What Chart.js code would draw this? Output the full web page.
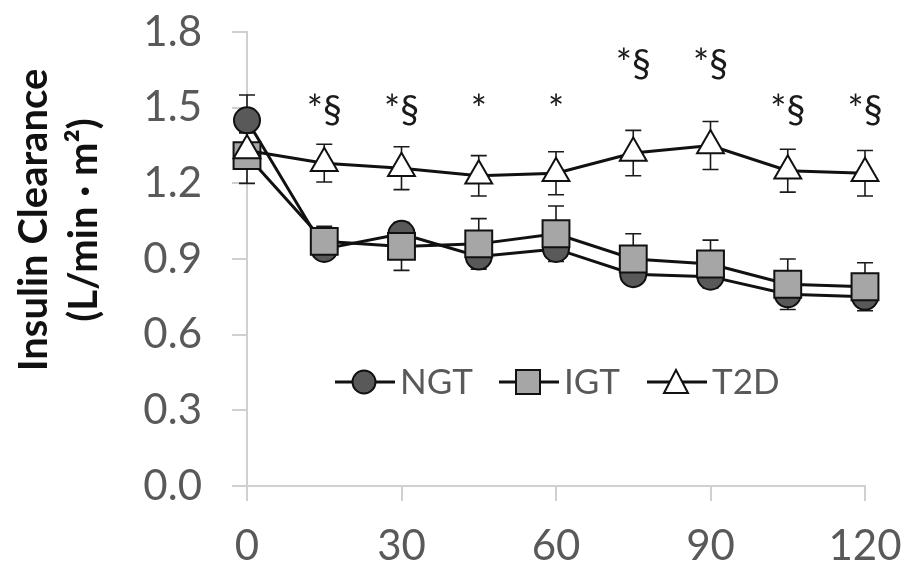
<!DOCTYPE html>
<html>
<head>
<meta charset="utf-8">
<script src="https://cdn.jsdelivr.net/npm/chart.js@4/dist/chart.umd.min.js"></script>
<style>
  html, body { margin: 0; padding: 0; background: #ffffff; }
  #wrap { width: 904px; height: 568px; }
</style>
</head>
<body>
<div id="wrap"><canvas id="c" width="904" height="568"></canvas></div>
<script>
// ---- data ----
const timeMin   = [0, 15, 30, 45, 60, 75, 90, 105, 120];
const ngt       = [1.45, 0.94, 1.00, 0.91, 0.94, 0.84, 0.83, 0.76, 0.75];
const ngtSE     = [0.10, 0.035, 0.035, 0.035, 0.035, 0.035, 0.035, 0.035, 0.035];
const igt       = [1.31, 0.97, 0.95, 0.96, 1.00, 0.90, 0.88, 0.80, 0.79];
const igtSE     = [0.11, 0.06, 0.095, 0.10, 0.11, 0.10, 0.095, 0.10, 0.095];
const t2d       = [1.33, 1.28, 1.26, 1.23, 1.24, 1.32, 1.35, 1.25, 1.24];
const t2dSE     = [0.07, 0.075, 0.085, 0.08, 0.085, 0.09, 0.095, 0.085, 0.09];
const sigLabels = ["", "*§", "*§", "*", "*", "*§", "*§", "*§", "*§"];
const sigLevel  = [null, 1.44, 1.44, 1.44, 1.44, 1.62, 1.62, 1.44, 1.44];
const xTicks    = [0, 30, 60, 90, 120];
const yTicks    = [0.0, 0.3, 0.6, 0.9, 1.2, 1.5, 1.8];
const seriesNames = ["NGT", "IGT", "T2D"];
const yTitle    = ["Insulin Clearance", "(L/min · m²)"];

const FONT = "Lato, 'Open Sans', sans-serif";
const toXY = (xs, ys) => xs.map((x, i) => ({ x: x, y: ys[i] }));

const errorBarPlugin = {
  id: 'errorBars',
  beforeDatasetsDraw(chart) {
    const xs = chart.scales.x, ys = chart.scales.y;
    const ctx = chart.ctx;
    ctx.save();
    ctx.strokeStyle = '#1a1a1a';
    ctx.lineWidth = 1.6;
    chart.data.datasets.forEach(ds => {
      if (!ds.se) return;
      ds.data.forEach((p, i) => {
        const px = xs.getPixelForValue(p.x);
        const top = ys.getPixelForValue(p.y + ds.se[i]);
        const bot = ys.getPixelForValue(p.y - ds.se[i]);
        ctx.beginPath();
        ctx.moveTo(px, top); ctx.lineTo(px, bot);
        ctx.moveTo(px - 8, top); ctx.lineTo(px + 8, top);
        ctx.moveTo(px - 8, bot); ctx.lineTo(px + 8, bot);
        ctx.stroke();
      });
    });
    ctx.restore();
  }
};

const annotPlugin = {
  id: 'annot',
  afterDatasetsDraw(chart) {
    const ctx = chart.ctx, xs = chart.scales.x, ys = chart.scales.y;
    ctx.save();
    ctx.fillStyle = '#1a1a1a';
    ctx.font = "38px " + FONT;
    ctx.textAlign = 'center';
    ctx.textBaseline = 'alphabetic';
    sigLabels.forEach((t, i) => {
      if (!t) return;
      ctx.fillText(t, xs.getPixelForValue(timeMin[i]), ys.getPixelForValue(sigLevel[i]));
    });
    ctx.restore();
  }
};

const titleLegendPlugin = {
  id: 'titleLegend',
  afterDraw(chart) {
    const ctx = chart.ctx;
    const ca = chart.chartArea;
    // y-axis title (two lines, rotated)
    ctx.save();
    ctx.fillStyle = '#111111';
    ctx.font = "bold 40px " + FONT;
    ctx.textAlign = 'center';
    ctx.textBaseline = 'middle';
    const cy = 220;
    [[34, yTitle[0]], [84, yTitle[1]]].forEach(([cx, txt]) => {
      ctx.save();
      ctx.translate(cx, cy);
      ctx.rotate(-Math.PI / 2);
      ctx.fillText(txt, 0, 0);
      ctx.restore();
    });
    ctx.restore();

    // legend inside plot
    const ly = 382;
    const items = [
      { x0: ca.left + 88, name: seriesNames[0], style: 'circle', fill: '#595959' },
      { x0: ca.left + 252, name: seriesNames[1], style: 'rect', fill: '#a6a6a6' },
      { x0: ca.left + 400, name: seriesNames[2], style: 'triangle', fill: '#ffffff' }
    ];
    ctx.save();
    items.forEach(it => {
      ctx.strokeStyle = '#111111';
      ctx.lineWidth = 3;
      ctx.beginPath();
      ctx.moveTo(it.x0, ly); ctx.lineTo(it.x0 + 60, ly);
      ctx.stroke();
      const mx = it.x0 + 29;
      ctx.fillStyle = it.fill;
      ctx.lineWidth = 2;
      ctx.beginPath();
      if (it.style === 'circle') {
        ctx.arc(mx, ly, 11.5, 0, Math.PI * 2);
      } else if (it.style === 'rect') {
        ctx.rect(mx - 12, ly - 12, 24, 24);
      } else {
        ctx.moveTo(mx, ly - 12); ctx.lineTo(mx + 12, ly + 11); ctx.lineTo(mx - 12, ly + 11); ctx.closePath();
      }
      ctx.fill(); ctx.stroke();
      ctx.fillStyle = '#595959';
      ctx.font = "35px " + FONT;
      ctx.textAlign = 'left';
      ctx.textBaseline = 'middle';
      ctx.fillText(it.name, it.x0 + 65, ly + 1);
    });
    ctx.restore();
  }
};

const axisColor = '#d0d0d0';
new Chart(document.getElementById('c'), {
  type: 'line',
  data: {
    datasets: [
      { label: seriesNames[0], data: toXY(timeMin, ngt), se: ngtSE, order: 3, clip: false,
        borderColor: '#111111', borderWidth: 3, pointStyle: 'circle', pointRadius: 13,
        pointBackgroundColor: '#595959', pointBorderColor: '#111111', pointBorderWidth: 2 },
      { label: seriesNames[1], data: toXY(timeMin, igt), se: igtSE, order: 2, clip: false,
        borderColor: '#111111', borderWidth: 3, pointStyle: 'rect', pointRadius: 19,
        pointBackgroundColor: '#a6a6a6', pointBorderColor: '#111111', pointBorderWidth: 2 },
      { label: seriesNames[2], data: toXY(timeMin, t2d), se: t2dSE, order: 1, clip: false,
        borderColor: '#111111', borderWidth: 3, pointStyle: 'triangle', pointRadius: 15.5,
        pointBackgroundColor: '#ffffff', pointBorderColor: '#111111', pointBorderWidth: 2 }
    ]
  },
  options: {
    responsive: false,
    animation: false,
    devicePixelRatio: 1,
    layout: { padding: { left: 0, right: 39, top: 32, bottom: 0 } },
    plugins: { legend: { display: false }, tooltip: { enabled: false } },
    elements: { line: { tension: 0 } },
    scales: {
      x: {
        type: 'linear', min: 0, max: 120,
        afterBuildTicks: s => { s.ticks = xTicks.map(v => ({ value: v })); },
        afterFit: s => { s.height = 82; s.paddingLeft = 0; s.paddingRight = 0; },
        grid: { drawOnChartArea: false, tickLength: 15, color: axisColor, lineWidth: 2 },
        border: { color: axisColor, width: 2 },
        ticks: { color: '#595959', font: { family: FONT, size: 42 }, padding: 20, maxRotation: 0 }
      },
      y: {
        type: 'linear', min: 0, max: 1.8,
        afterBuildTicks: s => { s.ticks = yTicks.map(v => ({ value: v })); },
        afterFit: s => { s.width = 247; s.paddingTop = 0; s.paddingBottom = 0; },
        grid: { drawOnChartArea: false, tickLength: 15, color: axisColor, lineWidth: 2 },
        border: { color: axisColor, width: 2 },
        ticks: { color: '#595959', font: { family: FONT, size: 42 }, padding: 30,
                 callback: v => Number(v).toFixed(1) }
      }
    }
  },
  plugins: [errorBarPlugin, annotPlugin, titleLegendPlugin]
});
</script>
</body>
</html>
